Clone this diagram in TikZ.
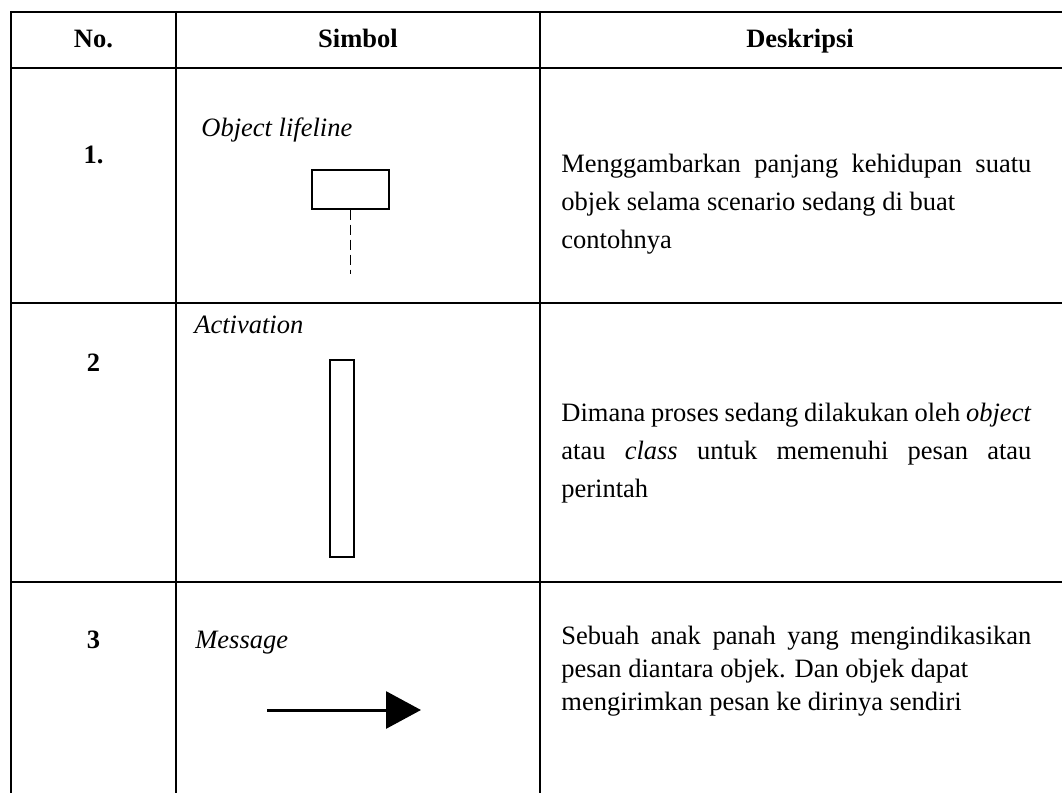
\documentclass[tikz,border=0pt]{standalone}
\usepackage{fontspec}
\setmainfont{Liberation Serif}
\usetikzlibrary{arrows.meta, positioning}

\begin{document}
\begin{tikzpicture}[
    x=0.5pt, y=-0.5pt,
    node distance=0.32cm,
    gridline/.style={line width=1.2pt},
    headtxt/.style={anchor=base, inner sep=0pt, font=\fontsize{13.25pt}{16pt}\selectfont\bfseries},
    numtxt/.style={anchor=base, inner sep=0pt, font=\fontsize{13.25pt}{16pt}\selectfont\bfseries},
    symtxt/.style={anchor=base west, inner sep=0pt, font=\fontsize{13.25pt}{16pt}\selectfont\itshape},
    desctxt/.style={anchor=base west, inner sep=0pt, text width=235pt, align=justify, font=\fontsize{13.25pt}{19pt}\selectfont},
    lifebox/.style={draw, line width=0.6pt, minimum width=38.5pt, minimum height=19.5pt, inner sep=0pt},
    actbox/.style={draw, line width=0.7pt, minimum width=12pt, minimum height=98.5pt, inner sep=0pt},
    lifedash/.style={line width=0.5pt, dash pattern=on 5pt off 2.5pt},
    msgarrow/.style={line width=1.5pt, -{Triangle[length=17.5pt, width=18.5pt]}}
]
\useasboundingbox (0,0) rectangle (1062,793);
% table rules
\foreach \yy in {12,68,303,582}
  \draw[gridline] (11,\yy) -- (1062,\yy);
\foreach \xx in {11,176,540}
  \draw[gridline] (\xx,10.8) -- (\xx,793);
% header
\node[headtxt] (hno) at (93.5,47) {No.};
\node[headtxt] (hsim) at (358,47) {Simbol};
\node[headtxt] (hdes) at (800,47) {Deskripsi};
% row 1
\node[numtxt] (n1) at (93.5,163) {1.};
\node[symtxt] (s1) at (201,136) {Object lifeline};
\node[lifebox] (lbox) at (350.5,189.5) {};
\coordinate[below=32pt of lbox.south] (lend);
\draw[lifedash] (lbox.south) -- (lend);
\node[desctxt] (d1) at (561,172) {Menggambarkan panjang kehidupan suatu\linebreak objek selama scenario sedang di buat\newline contohnya};
% row 2
\node[symtxt] (s2) at (194,333) {Activation};
\node[numtxt] (n2) at (93.5,371) {2};
\node[actbox] (abox) at (342,458.5) {};
\node[desctxt] (d2) at (561,421) {Dimana proses sedang dilakukan oleh \textit{object}\linebreak atau \textit{class} untuk memenuhi pesan atau\linebreak perintah};
% row 3
\node[numtxt] (n3) at (93.5,648) {3};
\node[symtxt] (s3) at (195,648) {Message};
\coordinate (mfrom) at (267,710);
\coordinate (mto) at (421,710);
\draw[msgarrow] (mfrom) -- (mto);
\node[desctxt, font=\fontsize{13.25pt}{16.5pt}\selectfont] (d3) at (561,644) {Sebuah anak panah yang mengindikasikan\linebreak pesan diantara objek. Dan objek dapat\newline mengirimkan pesan ke dirinya sendiri};
\end{tikzpicture}
\end{document}
